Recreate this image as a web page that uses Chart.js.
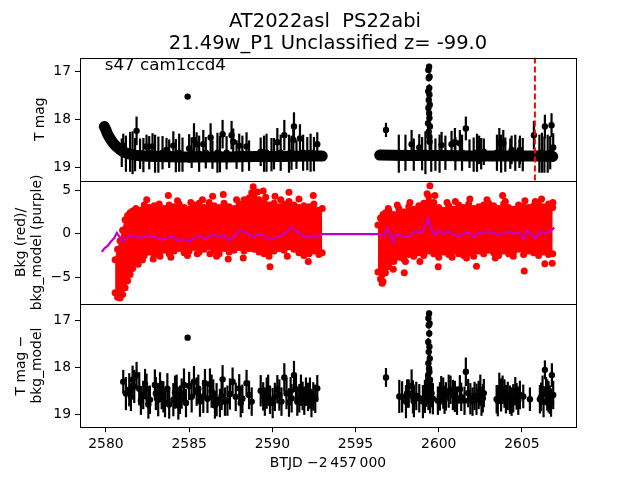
<!DOCTYPE html>
<html>
<head>
<meta charset="utf-8">
<script src="https://cdn.jsdelivr.net/npm/chart.js@4.4.1/dist/chart.umd.min.js"></script>
<style>
	body { margin: 0; background: #fff; }
	#wrap { width: 640px; height: 480px; }
</style>
</head>
<body>
<div id="wrap"><canvas id="lc" width="640" height="480"></canvas></div>
<script>
// text
const titleLines = ["AT2022asl  PS22abi", "21.49w_P1 Unclassified z= -99.0"];
const sectorLabel = "s47 cam1ccd4";
const xTitle = "BTJD \u22122\u2009457\u2009000";
const p1Title = "T mag";
const p2Title = ["Bkg (red)/", "bkg_model (purple)"];
const p3Title = ["T mag \u2212", "bkg_model"];

// axis limits
const xMin = 2578.44, xMax = 2608.25;
const p1Min = 16.70, p1Max = 19.29;
const p2Min = -8.08, p2Max = 6.08;
const p3Min = 16.66, p3Max = 19.26;
const markerEpoch = 2605.78;

// panel 1: dense light curve band (centre line)
const bandLX = [2579.9, 2580.0, 2580.1, 2580.25, 2580.4, 2580.6, 2580.8, 2581.0, 2581.3, 2581.7, 2582.2, 2583.0, 2584.5, 2586.0, 2587.5, 2589.0, 2590.5, 2592.0, 2593.0];
const bandLY = [18.15, 18.22, 18.31, 18.40, 18.48, 18.56, 18.62, 18.67, 18.72, 18.75, 18.77, 18.78, 18.79, 18.79, 18.79, 18.78, 18.78, 18.77, 18.77];
const bandRX = [2596.45, 2598.0, 2600.0, 2602.0, 2604.0, 2606.0, 2606.85];
const bandRY = [18.75, 18.76, 18.76, 18.77, 18.77, 18.77, 18.78];

// panel 1: points standing out of the band
const p1X = [2581.04, 2581.84, 2582.44, 2582.80, 2583.64, 2584.05, 2584.91, 2585.00, 2585.29, 2585.45, 2585.85, 2586.29, 2587.01, 2587.55, 2587.65, 2588.01, 2588.45, 2589.30, 2590.30, 2590.72, 2591.30, 2591.26, 2591.66, 2592.70,
	2596.83, 2598.37, 2598.83,
	2599.42, 2599.38, 2599.45, 2599.40, 2599.43, 2599.37, 2599.44, 2599.40, 2599.46, 2599.38, 2599.42, 2599.44, 2599.36, 2599.47, 2599.40, 2599.43, 2599.45,
	2600.17, 2600.77, 2600.97, 2601.27, 2601.63, 2602.43, 2602.71, 2603.64, 2603.88, 2604.38, 2604.88, 2605.72, 2606.38, 2606.78, 2606.88];
const p1Y = [18.55, 18.24, 18.57, 18.57, 18.64, 18.55, 17.52, 18.61, 18.43, 18.52, 18.52, 18.38, 18.31, 18.33, 18.47, 18.55, 18.57, 18.68, 18.48, 18.33, 18.15, 18.43, 18.40, 18.52,
	18.22, 18.52, 18.59,
	16.89, 16.96, 17.10, 17.13, 17.34, 17.41, 17.48, 17.59, 17.69, 17.76, 17.87, 17.97, 18.08, 18.15, 18.26, 18.36, 18.47,
	18.54, 18.52, 18.48, 18.50, 18.19, 18.64, 18.68, 18.48, 18.50, 18.64, 18.64, 18.33, 18.15, 18.12, 18.59];
const p1Err = [0.25, 0.30, 0.25, 0.28, 0.25, 0.30, 0.05, 0.30, 0.35, 0.25, 0.30, 0.30, 0.30, 0.30, 0.28, 0.25, 0.30, 0.30, 0.30, 0.32, 0.30, 0.30, 0.30, 0.25,
	0.15, 0.30, 0.28,
	0.06, 0.06, 0.07, 0.07, 0.08, 0.08, 0.09, 0.09, 0.10, 0.10, 0.11, 0.12, 0.13, 0.14, 0.15, 0.16, 0.18,
	0.28, 0.28, 0.30, 0.28, 0.25, 0.30, 0.28, 0.30, 0.28, 0.30, 0.30, 0.30, 0.25, 0.25, 0.30];

// panel 1: points sitting in the band (only their error bars show)
const p1bX = [2580.95, 2581.2, 2581.45, 2581.6, 2581.75, 2582.05, 2582.25, 2582.6, 2582.95, 2583.15, 2583.4, 2583.8, 2584.2, 2584.4, 2584.6, 2585.15, 2585.6, 2586.0, 2586.4, 2586.7, 2586.85, 2587.25, 2587.85, 2588.2, 2588.6, 2589.5, 2589.65, 2589.95, 2590.1, 2590.5, 2591.0, 2591.15, 2591.45, 2591.85, 2592.1, 2592.3, 2592.5,
	2597.6, 2598.0, 2598.5, 2599.0, 2599.2, 2599.55, 2599.8, 2600.05, 2600.4, 2601.0, 2601.4, 2601.85, 2602.1, 2602.3, 2602.55, 2603.5, 2603.75, 2604.0, 2604.3, 2604.6, 2604.85, 2605.05, 2606.05, 2606.2, 2606.35, 2606.55, 2606.7];
const p1bY = [18.70, 18.72, 18.68, 18.70, 18.74, 18.72, 18.75, 18.70, 18.72, 18.74, 18.70, 18.72, 18.76, 18.70, 18.74, 18.70, 18.72, 18.70, 18.74, 18.70, 18.73, 18.70, 18.74, 18.72, 18.76, 18.72, 18.70, 18.74, 18.72, 18.70, 18.72, 18.70, 18.74, 18.70, 18.72, 18.70, 18.73,
	18.72, 18.70, 18.74, 18.72, 18.70, 18.72, 18.74, 18.72, 18.70, 18.72, 18.70, 18.72, 18.74, 18.70, 18.72, 18.70, 18.72, 18.74, 18.72, 18.70, 18.72, 18.74, 18.72, 18.70, 18.74, 18.72, 18.70];
const p1bErr = [0.30, 0.38, 0.42, 0.45, 0.35, 0.32, 0.36, 0.35, 0.40, 0.38, 0.35, 0.30, 0.35, 0.40, 0.36, 0.32, 0.38, 0.33, 0.30, 0.42, 0.38, 0.35, 0.30, 0.38, 0.32, 0.38, 0.40, 0.35, 0.33, 0.38, 0.40, 0.36, 0.30, 0.38, 0.35, 0.40, 0.36,
	0.40, 0.38, 0.34, 0.35, 0.45, 0.38, 0.34, 0.40, 0.36, 0.35, 0.38, 0.30, 0.36, 0.40, 0.33, 0.38, 0.40, 0.36, 0.32, 0.38, 0.30, 0.35, 0.40, 0.42, 0.38, 0.40, 0.35];

// panel 2: background flux, dense core (upper / lower edge) per orbit
const bkgLX = [2580.55, 2580.7, 2580.85, 2581.0, 2581.15, 2581.3, 2581.45, 2581.6, 2581.8, 2582.0, 2582.3, 2582.6, 2582.9, 2583.2, 2583.5, 2583.8, 2584.1, 2584.4, 2584.7, 2585.0, 2585.3, 2585.6, 2585.9, 2586.2, 2586.5, 2586.8, 2587.1, 2587.4, 2587.7, 2588.0, 2588.3, 2588.6, 2588.9, 2589.2, 2589.5, 2589.8, 2590.1, 2590.4, 2590.7, 2591.0, 2591.3, 2591.6, 2591.9, 2592.2, 2592.5, 2592.8, 2593.0];
const bkgLHi = [-3.0, -1.8, -0.8, 0.4, 1.6, 2.1, 2.4, 2.6, 2.9, 2.7, 3.3, 3.0, 3.2, 3.4, 2.9, 3.3, 3.1, 3.4, 3.0, 2.8, 3.3, 3.5, 3.0, 3.6, 3.2, 3.0, 3.5, 3.1, 2.9, 3.4, 3.9, 4.1, 4.2, 3.9, 3.6, 3.3, 3.5, 3.1, 3.4, 3.7, 3.3, 3.0, 3.2, 3.1, 3.4, 2.7, 2.9];
const bkgLLo = [-6.8, -7.3, -7.4, -7.0, -6.2, -5.4, -4.7, -4.0, -3.3, -2.8, -2.5, -2.1, -2.4, -2.2, -1.9, -2.3, -2.0, -1.7, -2.2, -2.0, -1.6, -2.1, -1.8, -1.5, -2.0, -2.3, -1.7, -2.1, -1.9, -1.6, -2.0, -1.7, -1.8, -2.1, -2.3, -2.6, -2.0, -1.7, -1.9, -1.5, -1.8, -2.2, -2.5, -2.3, -2.0, -2.4, -2.2];
const bkgRX = [2596.35, 2596.5, 2596.65, 2596.8, 2597.0, 2597.3, 2597.6, 2597.9, 2598.2, 2598.5, 2598.8, 2599.1, 2599.4, 2599.7, 2600.0, 2600.3, 2600.6, 2600.9, 2601.2, 2601.5, 2601.8, 2602.1, 2602.4, 2602.7, 2603.0, 2603.3, 2603.6, 2603.9, 2604.2, 2604.5, 2604.8, 2605.1, 2605.4, 2605.7, 2606.0, 2606.3, 2606.6, 2606.85];
const bkgRHi = [1.0, 1.8, 2.2, 2.4, 2.6, 2.2, 2.9, 2.5, 3.1, 2.8, 3.2, 3.5, 4.3, 3.6, 3.0, 2.7, 3.2, 2.8, 3.3, 3.0, 3.4, 2.9, 3.1, 3.3, 3.5, 3.2, 2.9, 3.4, 3.0, 2.8, 3.3, 3.1, 3.0, 3.2, 3.6, 3.1, 3.4, 3.0];
const bkgRLo = [-4.4, -5.2, -5.5, -4.5, -3.8, -3.2, -2.7, -2.9, -2.4, -2.6, -2.2, -2.5, -2.0, -2.3, -2.7, -2.1, -2.4, -2.0, -2.3, -2.5, -2.2, -2.6, -2.0, -2.3, -1.9, -2.2, -2.5, -2.0, -2.3, -2.1, -1.8, -2.4, -2.0, -2.2, -2.5, -2.1, -2.4, -2.3];

// panel 2: scattered background points outside the core
const bkgOutX = [2581.94, 2582.2, 2582.45, 2582.84, 2583.25, 2583.75, 2583.9, 2584.3, 2584.9, 2585.1, 2585.49, 2585.8, 2586.25, 2586.41, 2586.65, 2587.05, 2587.35, 2587.85, 2588.25, 2588.76, 2588.85, 2589.1, 2589.45, 2589.6, 2589.86, 2590.16, 2590.5, 2590.9, 2591.0, 2591.6, 2592.16, 2592.46,
	2596.6, 2596.97, 2597.27, 2597.51, 2597.93, 2598.0, 2598.27, 2598.87, 2599.3, 2599.47, 2599.77, 2599.97, 2600.5, 2600.8, 2601.0, 2601.67, 2601.87, 2602.27, 2602.9, 2603.4, 2603.84, 2604.0, 2604.48, 2605.14, 2605.18, 2605.8, 2606.18, 2606.38, 2606.82, 2606.86];
const bkgOutY = [-3.5, -3.0, 3.9, -2.9, -2.6, 4.4, -2.7, 3.8, -2.5, 3.6, -2.3, 3.9, -2.3, 4.3, -2.6, 4.5, -2.9, 3.9, -2.8, 4.7, 5.4, 4.8, 4.9, 4.2, -3.8, 4.3, 3.9, -2.6, 4.75, 4.0, -3.2, 4.4,
	-5.7, 2.9, -4.1, 3.3, -4.5, -3.2, 3.6, -3.2, 4.6, 5.5, 4.4, -3.8, 3.6, -2.7, 3.7, -2.8, 4.0, -3.75, 3.9, -2.8, 4.4, 3.7, -2.6, -4.3, 3.8, 3.7, 4.0, -3.45, -3.4, 3.6];

// panel 2: background model
const modelX = [2579.75, 2579.9, 2580.1, 2580.3, 2580.5, 2580.65, 2580.8, 2581.0, 2581.2, 2581.4, 2581.7, 2582.0, 2582.3, 2582.6, 2583.0, 2583.3, 2583.6, 2584.0, 2584.3, 2584.6, 2585.0, 2585.3, 2585.6, 2585.9, 2586.2, 2586.5, 2586.8, 2587.1, 2587.4, 2587.7, 2588.0, 2588.3, 2588.6, 2588.9, 2589.2, 2589.5, 2589.8, 2590.1, 2590.4, 2590.7, 2591.0, 2591.2, 2591.5, 2591.8, 2592.1, 2592.4, 2592.7, 2593.0,
	2596.5, 2596.7, 2596.9, 2597.1, 2597.25, 2597.4, 2597.7, 2598.0, 2598.3, 2598.6, 2598.9, 2599.1, 2599.35, 2599.55, 2599.75, 2600.0, 2600.3, 2600.6, 2600.9, 2601.2, 2601.5, 2601.8, 2602.1, 2602.4, 2602.7, 2603.0, 2603.3, 2603.6, 2603.9, 2604.2, 2604.5, 2604.8, 2605.1, 2605.3, 2605.5, 2605.8, 2606.1, 2606.4, 2606.7, 2606.95];
const modelY = [-2.1, -1.7, -1.4, -0.9, -0.5, 0.1, -0.3, -0.9, -0.5, -0.3, -0.2, -0.5, -0.3, -0.2, -0.4, -0.7, -0.5, -0.3, -0.8, -0.6, -0.9, -0.5, -0.2, -0.6, -0.3, -0.1, -0.4, -0.2, -0.8, -0.3, 0.3, 0.3, -0.1, -0.4, 0.0, -0.2, -0.7, -0.5, -0.3, -0.1, 0.5, 0.7, 0.2, -0.2, -0.5, -0.2, -0.4, -0.05,
	-0.05, -0.3, 0.6, -0.2, -1.0, -0.1, -0.2, -0.4, -0.2, 0.3, 0.1, 0.5, 1.8, 0.6, -0.2, 0.4, 0.0, 0.3, -0.1, -0.3, 0.0, 0.2, -0.4, 0.2, 0.0, 0.3, 0.1, -0.2, 0.1, 0.3, 0.0, 0.2, -0.6, 0.4, 0.1, -0.6, 0.3, 0.0, 0.3, 0.7];

// panel 3: difference light curve
const p3X = [2581.04, 2581.20, 2581.40, 2581.50, 2581.60, 2581.70, 2581.84, 2582.00, 2582.10, 2582.24, 2582.35, 2582.44, 2582.55, 2582.64, 2582.94, 2583.00, 2583.14, 2583.25, 2583.35, 2583.45, 2583.55, 2583.69, 2583.80, 2584.05, 2584.15, 2584.25, 2584.35, 2584.45, 2584.55, 2584.69, 2584.81, 2584.91, 2585.00, 2585.15, 2585.29, 2585.45, 2585.55, 2585.65, 2585.85, 2585.95, 2586.10, 2586.25, 2586.35, 2586.45, 2586.55, 2586.65, 2586.85, 2586.95, 2587.01, 2587.15, 2587.30, 2587.45, 2587.61, 2587.80, 2588.01, 2588.10, 2588.20, 2588.45, 2588.60, 2588.76,
	2589.30, 2589.45, 2589.55, 2589.66, 2589.75, 2589.86, 2590.02, 2590.15, 2590.30, 2590.42, 2590.55, 2590.72, 2590.85, 2591.00, 2591.10, 2591.16, 2591.30, 2591.42, 2591.50, 2591.62, 2591.72, 2591.82, 2591.92, 2592.02, 2592.15, 2592.26, 2592.35, 2592.46, 2592.58, 2592.70,
	2596.83, 2597.63, 2597.80, 2598.03, 2598.10, 2598.20, 2598.37, 2598.45, 2598.51, 2598.65, 2598.83, 2599.05, 2599.17, 2599.25,
	2599.42, 2599.38, 2599.45, 2599.40, 2599.43, 2599.37, 2599.44, 2599.40, 2599.46, 2599.38, 2599.42, 2599.44, 2599.36, 2599.47, 2599.40, 2599.43, 2599.45, 2599.38, 2599.48,
	2599.57, 2599.65, 2599.95, 2600.07, 2600.15, 2600.27, 2600.35, 2600.43, 2600.60, 2600.71, 2600.85, 2600.97, 2601.10, 2601.27, 2601.35, 2601.55, 2601.63, 2601.77, 2601.90, 2602.03, 2602.15, 2602.27, 2602.40, 2602.50, 2602.57, 2602.65, 2602.71,
	2603.48, 2603.55, 2603.64, 2603.75, 2603.84, 2603.95, 2604.04, 2604.15, 2604.28, 2604.38, 2604.48, 2604.60, 2604.68, 2604.78, 2604.88, 2605.08, 2605.48,
	2606.08, 2606.15, 2606.24, 2606.30, 2606.38, 2606.45, 2606.52, 2606.60, 2606.68, 2606.75, 2606.80, 2606.88];
const p3Y = [18.30, 18.55, 18.47, 18.62, 18.26, 18.40, 18.16, 18.45, 18.70, 18.58, 18.35, 18.45, 18.78, 18.68, 18.37, 18.55, 18.68, 18.40, 18.58, 18.62, 18.75, 18.45, 18.78, 18.68, 18.52, 18.47, 18.80, 18.68, 18.55, 18.37, 18.75, 17.37, 18.39, 18.62, 18.30, 18.51, 18.45, 18.72, 18.61, 18.33, 18.66, 18.35, 18.50, 18.55, 18.80, 18.68, 18.75, 18.60, 18.25, 18.72, 18.70, 18.56, 18.30, 18.62, 18.44, 18.75, 18.66, 18.33, 18.58, 18.72,
	18.49, 18.61, 18.72, 18.54, 18.48, 18.68, 18.75, 18.62, 18.46, 18.58, 18.72, 18.21, 18.55, 18.74, 18.50, 18.65, 18.16, 18.46, 18.72, 18.65, 18.48, 18.60, 18.70, 18.51, 18.62, 18.54, 18.75, 18.61, 18.66, 18.44,
	18.21, 18.61, 18.62, 18.72, 18.55, 18.55, 18.39, 18.62, 18.72, 18.60, 18.65, 18.72, 18.61, 18.50,
	16.86, 16.96, 17.07, 17.11, 17.28, 17.46, 17.56, 17.67, 17.81, 17.91, 18.02, 18.09, 18.16, 18.26, 18.37, 18.47, 18.58, 18.65, 18.72,
	18.54, 18.66, 18.70, 18.61, 18.48, 18.54, 18.68, 18.61, 18.50, 18.47, 18.58, 18.61, 18.70, 18.46, 18.62, 18.70, 18.09, 18.54, 18.66, 18.72, 18.60, 18.67, 18.58, 18.48, 18.72, 18.65, 18.54,
	18.67, 18.70, 18.44, 18.58, 18.47, 18.55, 18.67, 18.60, 18.68, 18.72, 18.65, 18.50, 18.61, 18.70, 18.58, 18.61, 18.67,
	18.67, 18.62, 18.47, 18.72, 18.05, 18.50, 18.58, 18.62, 18.68, 18.74, 18.16, 18.58];
const p3Err = [0.25, 0.35, 0.35, 0.30, 0.30, 0.35, 0.28, 0.35, 0.30, 0.30, 0.32, 0.32, 0.30, 0.30, 0.33, 0.35, 0.35, 0.30, 0.30, 0.33, 0.30, 0.33, 0.30, 0.35, 0.35, 0.32, 0.30, 0.30, 0.32, 0.35, 0.30, 0.05, 0.30, 0.33, 0.33, 0.30, 0.30, 0.32, 0.35, 0.30, 0.30, 0.33, 0.35, 0.30, 0.28, 0.35, 0.30, 0.30, 0.30, 0.30, 0.32, 0.33, 0.30, 0.30, 0.30, 0.30, 0.30, 0.28, 0.30, 0.30,
	0.33, 0.30, 0.30, 0.33, 0.33, 0.30, 0.32, 0.30, 0.30, 0.33, 0.30, 0.30, 0.33, 0.30, 0.30, 0.30, 0.30, 0.32, 0.30, 0.30, 0.33, 0.30, 0.30, 0.30, 0.30, 0.33, 0.30, 0.30, 0.30, 0.28,
	0.20, 0.35, 0.33, 0.35, 0.30, 0.30, 0.35, 0.35, 0.33, 0.30, 0.30, 0.35, 0.35, 0.33,
	0.06, 0.06, 0.07, 0.07, 0.08, 0.08, 0.09, 0.09, 0.10, 0.10, 0.11, 0.12, 0.13, 0.14, 0.15, 0.16, 0.18, 0.25, 0.25,
	0.30, 0.33, 0.30, 0.30, 0.30, 0.33, 0.30, 0.30, 0.35, 0.30, 0.32, 0.33, 0.30, 0.30, 0.30, 0.30, 0.30, 0.30, 0.33, 0.30, 0.30, 0.33, 0.30, 0.33, 0.30, 0.30, 0.30,
	0.30, 0.33, 0.33, 0.35, 0.30, 0.30, 0.30, 0.30, 0.30, 0.30, 0.30, 0.30, 0.28, 0.30, 0.30, 0.25, 0.25,
	0.30, 0.30, 0.30, 0.33, 0.20, 0.30, 0.33, 0.33, 0.30, 0.30, 0.25, 0.30];

function pts(xs, ys) {
	return xs.map((x, i) => ({ x: x, y: ys[i] }));
}

function minusSign(value) {
	return String(value).replace("-", "\u2212");
}

const errorBars = {
	id: "errorBars",
	beforeDatasetsDraw(chart) {
		const ctx = chart.ctx;
		const xs = chart.scales.x;
		ctx.save();
		ctx.strokeStyle = "#000";
		ctx.lineWidth = 2.2;
		chart.data.datasets.forEach(ds => {
			if (!ds.errors) return;
			const ys = chart.scales[ds.yAxisID];
			ds.data.forEach((p, j) => {
				const px = xs.getPixelForValue(p.x);
				ctx.beginPath();
				ctx.moveTo(px, ys.getPixelForValue(p.y - ds.errors[j]));
				ctx.lineTo(px, ys.getPixelForValue(p.y + ds.errors[j]));
				ctx.stroke();
			});
		});
		ctx.restore();
	}
};

const frames = {
	id: "frames",
	afterDraw(chart) {
		const ctx = chart.ctx;
		const xs = chart.scales.x;
		ctx.save();
		ctx.strokeStyle = "#000";
		ctx.lineWidth = 1;
		["y1", "y2", "y3"].forEach(id => {
			const s = chart.scales[id];
			ctx.strokeRect(Math.round(xs.left) + 0.5, Math.round(s.top) + 0.5, Math.round(xs.right - xs.left), Math.round(s.bottom - s.top));
		});
		ctx.fillStyle = "#000";
		ctx.font = "19.5px 'DejaVu Sans'";
		ctx.textAlign = "center";
		const cx = (xs.left + xs.right) / 2;
		ctx.fillText(titleLines[0], cx - 3, 26.5);
		ctx.fillText(titleLines[1], cx, 48.5);
		ctx.font = "16.7px 'DejaVu Sans'";
		ctx.textAlign = "left";
		ctx.fillText(sectorLabel, xs.left + 0.05 * (xs.right - xs.left), 70);
		ctx.restore();
	}
};

Chart.defaults.font.family = "'DejaVu Sans', sans-serif";
Chart.defaults.font.size = 13.9;
Chart.defaults.color = "#000";

const redFill = "#ff0000";

function yScale(min, max, step, title, pad, weight) {
	return {
		type: "linear",
		position: "left",
		stack: "panels",
		stackWeight: 1,
		weight: weight,
		min: min,
		max: max,
		reverse: min > 0,
		border: { display: false },
		grid: { drawOnChartArea: false, tickLength: 5, tickColor: "#000", tickWidth: 1 },
		ticks: { stepSize: step, includeBounds: false, padding: 4, callback: v => minusSign(v) },
		title: { display: true, text: title, padding: { top: pad, bottom: 0 } },
		afterFit: scale => { scale.width = 80; }
	};
}

function coreEdge(xs, ys, fill) {
	return {
		data: pts(xs, ys),
		yAxisID: "y2",
		showLine: true,
		fill: fill,
		backgroundColor: redFill,
		borderColor: redFill,
		borderWidth: 1,
		pointRadius: 3.5,
		pointBackgroundColor: redFill,
		pointBorderWidth: 0
	};
}

new Chart(document.getElementById("lc"), {
	type: "scatter",
	data: {
		datasets: [
			{ data: [{ x: markerEpoch, y: p1Min }, { x: markerEpoch, y: p1Max }], yAxisID: "y1", showLine: true, borderColor: "#ff0000", borderWidth: 2, borderDash: [6, 3], pointRadius: 0 },
			{ data: pts(modelX, modelY), yAxisID: "y2", showLine: true, borderColor: "#bf00bf", borderWidth: 2.2, pointRadius: 0 },
			{ data: pts(bkgOutX, bkgOutY), yAxisID: "y2", pointRadius: 3.5, backgroundColor: redFill, borderWidth: 0 },
			coreEdge(bkgLX, bkgLHi, "+1"),
			coreEdge(bkgLX, bkgLLo, false),
			coreEdge(bkgRX, bkgRHi, "+1"),
			coreEdge(bkgRX, bkgRLo, false),
			{ data: pts(p1X, p1Y), errors: p1Err, yAxisID: "y1", pointRadius: 3.2, backgroundColor: "#000", borderWidth: 0 },
			{ data: pts(p1bX, p1bY), errors: p1bErr, yAxisID: "y1", pointRadius: 3.2, backgroundColor: "#000", borderWidth: 0 },
			{ data: pts(bandLX, bandLY), yAxisID: "y1", showLine: true, borderColor: "#000", borderWidth: 11, borderCapStyle: "round", borderJoinStyle: "round", pointRadius: 0 },
			{ data: pts(bandRX, bandRY), yAxisID: "y1", showLine: true, borderColor: "#000", borderWidth: 11, borderCapStyle: "round", borderJoinStyle: "round", pointRadius: 0 },
			{ data: pts(p3X, p3Y), errors: p3Err, yAxisID: "y3", pointRadius: 3.2, backgroundColor: "#000", borderWidth: 0 }
		]
	},
	options: {
		responsive: false,
		animation: false,
		events: [],
		layout: { padding: { top: 57.6, right: 64, left: 0, bottom: 0 } },
		plugins: {
			legend: { display: false },
			tooltip: { enabled: false }
		},
		scales: {
			x: {
				type: "linear",
				position: "bottom",
				min: xMin,
				max: xMax,
				border: { display: false },
				grid: { drawOnChartArea: false, tickLength: 5, tickColor: "#000", tickWidth: 1 },
				ticks: { stepSize: 5, includeBounds: false, padding: 4, maxRotation: 0, callback: v => String(v) },
				title: { display: true, text: xTitle, padding: { top: 0, bottom: 8 } },
				afterFit: scale => { scale.height = 52.8; }
			},
			y1: yScale(p1Min, p1Max, 1, p1Title, 31.6, 3),
			y2: yScale(p2Min, p2Max, 5, p2Title, 12.6, 2),
			y3: yScale(p3Min, p3Max, 1, p3Title, 12.6, 1)
		}
	},
	plugins: [errorBars, frames]
});
</script>
</body>
</html>
